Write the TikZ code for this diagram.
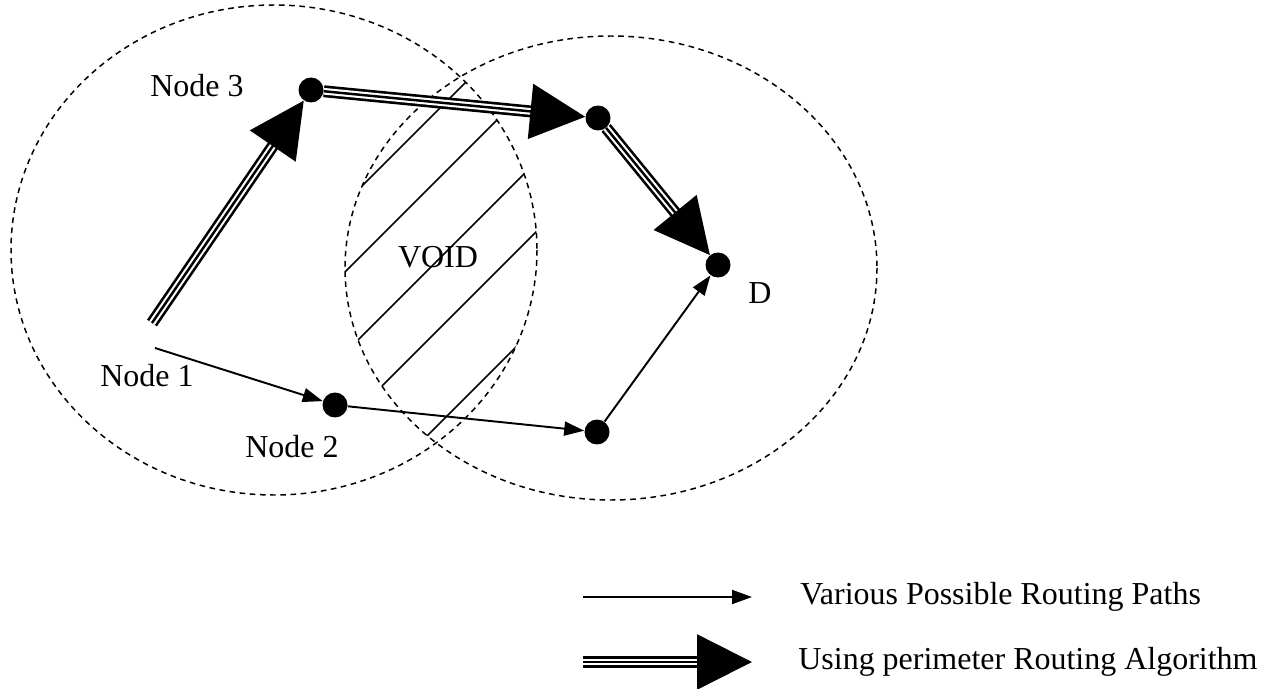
\documentclass[tikz,border=0pt]{standalone}
\usepackage{fontspec}
\setmainfont{Liberation Serif}
\usetikzlibrary{arrows.meta}

\begin{document}
\begin{tikzpicture}[x=0.02cm,y=-0.02cm,font=\fontsize{18.2}{21}\selectfont,
            dot/.style={circle,fill=black,inner sep=0pt,minimum size=0.5cm},
            zone/.style={dash pattern=on 3.2pt off 2.6pt,line width=0.85pt},
            route/.style={line width=1.1pt,-{Triangle[length=0.4cm,width=0.28cm]}},
            perimout/.style={line width=1.5pt,double=white,double distance=3.8pt,shorten >=1cm},
            perimin/.style={line width=1.4pt,-{Triangle[length=1.1cm,width=1.1cm]}}]
          \useasboundingbox (0,0) rectangle (1271,689);
          % radio ranges and the void between them
          \draw[zone] (274,250) ellipse [x radius=263,y radius=245];
          \draw[zone] (611,268) ellipse [x radius=266,y radius=232];
          \begin{scope}
            \clip (274,250) ellipse [x radius=263,y radius=245];
            \clip (611,268) ellipse [x radius=266,y radius=232];
            \foreach \c in {548,617,698,768,863}{\draw[line width=1pt] (\c-520,520) -- (\c-40,40);}
          \end{scope}
          \node (void) at (438,257) {VOID};
          % nodes
          \node[dot] (n3) at (311,90) {};
          \node[dot] (nr) at (598,118) {};
          \node[dot] (d) at (718,265) {};
          \node[dot] (n2) at (335,405) {};
          \node[dot] (nb) at (597,432) {};
          \coordinate (s1) at (155,348);
          \coordinate (s2) at (152,323);
          \node (l3) at (197,86) {Node 3};
          \node (ld) at (760,293) {D};
          \node (l1) at (147,376) {Node 1};
          \node (l2) at (292,447) {Node 2};
          % routes
          \foreach \a/\b in {s1/n2,n2/nb,nb/d}{\draw[route] (\a) -- (\b);}
          \foreach \a/\b in {s2/n3,n3/nr,nr/d}{\draw[perimout] (\a) -- (\b);\draw[perimin] (\a) -- (\b);}
          % legend
          \coordinate (k1a) at (583,597); \coordinate (k1b) at (752,597);
          \coordinate (k2a) at (583,662); \coordinate (k2b) at (752,662);
          \draw[route] (k1a) -- (k1b);
          \draw[perimout] (k2a) -- (k2b);\draw[perimin] (k2a) -- (k2b);
          \node[anchor=west,inner sep=0pt] (t1) at (800,597) {Various Possible Routing Paths};
          \node[anchor=west,inner sep=0pt] (t2) at (798,662) {Using perimeter Routing Algorithm};
        \end{tikzpicture}
\end{document}
